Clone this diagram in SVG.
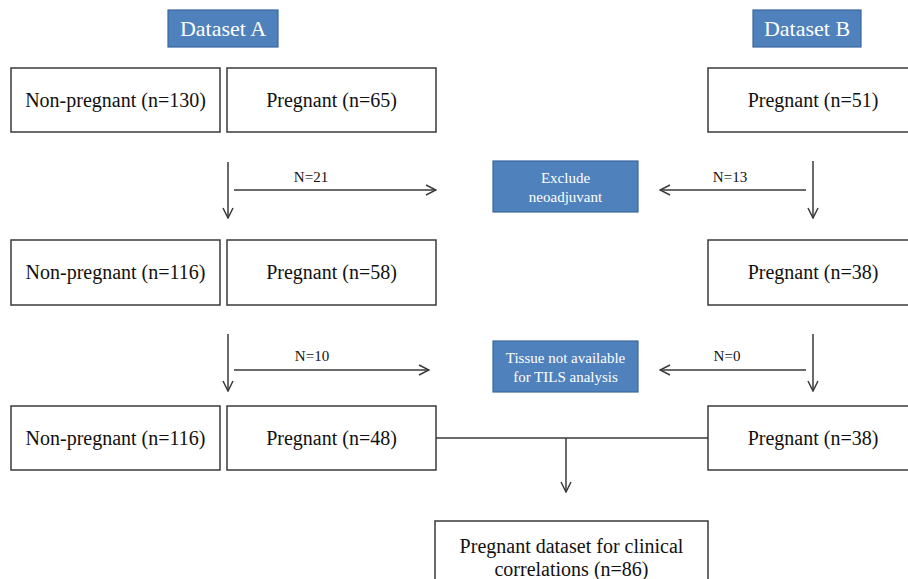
<svg xmlns="http://www.w3.org/2000/svg" width="908" height="579" viewBox="0 0 908 579">
<style>
.box{fill:#fff;stroke:#3a3a3a;stroke-width:1.5}
.blue{fill:#4f81bd;stroke:#3b6699;stroke-width:1.2}
.t{font-family:"Liberation Serif","Times New Roman",serif;font-size:20px;fill:#111;text-anchor:middle}
.tw{font-family:"Liberation Serif","Times New Roman",serif;font-size:22px;fill:#fff;text-anchor:middle}
.ts{font-family:"Liberation Serif","Times New Roman",serif;font-size:15px;fill:#fff;text-anchor:middle}
.tl{font-family:"Liberation Serif","Times New Roman",serif;font-size:15px;fill:#111;text-anchor:middle}
.ln{stroke:#3a3a3a;stroke-width:1.5;fill:none}
</style>
<defs>
<marker id="ah" viewBox="0 0 12 12" refX="11" refY="6" markerWidth="12" markerHeight="12" markerUnits="userSpaceOnUse" orient="auto">
<polyline points="1,1 11,6 1,11" fill="none" stroke="#3a3a3a" stroke-width="1.5"/>
</marker>
</defs>
<rect width="908" height="579" fill="#fff"/>
<g id="datasetA"><rect class="blue" x="168" y="10" width="110" height="37"/><text class="tw" x="223" y="36">Dataset A</text></g>
<g id="datasetB"><rect class="blue" x="753" y="10" width="108" height="37"/><text class="tw" x="807" y="36">Dataset B</text></g>
<g id="a1np"><rect class="box" x="11" y="68" width="209" height="64"/><text class="t" x="115.5" y="107">Non-pregnant (n=130)</text></g>
<g id="a1p"><rect class="box" x="227" y="68" width="209" height="64"/><text class="t" x="331.5" y="107">Pregnant (n=65)</text></g>
<g id="b1p"><rect class="box" x="708" y="68" width="210" height="64"/><text class="t" x="813" y="107">Pregnant (n=51)</text></g>
<g id="exclude"><rect class="blue" x="493" y="161" width="145" height="51"/><text class="ts" x="565.5" y="183">Exclude</text><text class="ts" x="565.5" y="202">neoadjuvant</text></g>
<g id="a2np"><rect class="box" x="11" y="240" width="209" height="65"/><text class="t" x="115.5" y="279">Non-pregnant (n=116)</text></g>
<g id="a2p"><rect class="box" x="227" y="240" width="209" height="65"/><text class="t" x="331.5" y="279">Pregnant (n=58)</text></g>
<g id="b2p"><rect class="box" x="708" y="240" width="210" height="65"/><text class="t" x="813" y="279">Pregnant (n=38)</text></g>
<g id="tissue"><rect class="blue" x="493" y="341" width="145" height="51"/><text class="ts" x="565.5" y="363">Tissue not available</text><text class="ts" x="565.5" y="382">for TILS analysis</text></g>
<g id="a3np"><rect class="box" x="11" y="406" width="209" height="64"/><text class="t" x="115.5" y="445">Non-pregnant (n=116)</text></g>
<g id="a3p"><rect class="box" x="227" y="406" width="209" height="64"/><text class="t" x="331.5" y="445">Pregnant (n=48)</text></g>
<g id="b3p"><rect class="box" x="708" y="406" width="210" height="64"/><text class="t" x="813" y="445">Pregnant (n=38)</text></g>
<g id="final"><rect class="box" x="435" y="521" width="273" height="70"/><text class="t" x="571.5" y="553">Pregnant dataset for clinical</text><text class="t" x="571.5" y="576">correlations (n=86)</text></g>
<g id="connectors">
<line class="ln" x1="228" y1="162" x2="228" y2="218" marker-end="url(#ah)"/>
<line class="ln" x1="234" y1="190" x2="436" y2="190" marker-end="url(#ah)"/>
<text class="tl" x="311" y="182">N=21</text>
<line class="ln" x1="806" y1="190" x2="660" y2="190" marker-end="url(#ah)"/>
<text class="tl" x="730" y="182">N=13</text>
<line class="ln" x1="813" y1="161" x2="813" y2="218" marker-end="url(#ah)"/>
<line class="ln" x1="228" y1="334" x2="228" y2="391" marker-end="url(#ah)"/>
<line class="ln" x1="234" y1="370" x2="429" y2="370" marker-end="url(#ah)"/>
<text class="tl" x="312" y="361">N=10</text>
<line class="ln" x1="806" y1="370" x2="660" y2="370" marker-end="url(#ah)"/>
<text class="tl" x="727" y="361">N=0</text>
<line class="ln" x1="813" y1="334" x2="813" y2="391" marker-end="url(#ah)"/>
<line class="ln" x1="436" y1="438" x2="708" y2="438"/>
<line class="ln" x1="566" y1="438" x2="566" y2="492" marker-end="url(#ah)"/>
</g>
</svg>
